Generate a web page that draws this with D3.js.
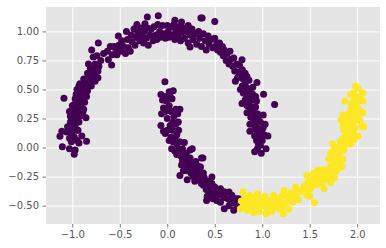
<!DOCTYPE html>
<html>
<head>
<meta charset="utf-8">
<script src="https://cdn.jsdelivr.net/npm/d3@7"></script>
<style>
  html, body { margin: 0; padding: 0; background: #fff; }
  svg { display: block; }
  text { font-family: "DejaVu Sans", sans-serif; }
</style>
</head>
<body>
<div id="chart"></div>
<script>
// values, [x, y]
const outerLeg = [
  [-1.105,0.006],[-0.98,-0.058],[-0.85,0.055],[-1.13,0.098],[-1.11,0.14],[-1.03,-0.01],[-0.97,-0.02],[-0.93,0.04],[-0.9,0.1],[-0.955,0.15],
  [-1.03,0.08],[-1.05,0.18],[-0.99,0.21],[-0.95,0.06],[-0.94,0.15],[-1.007,0.12],[-1.06,0.135],[-1.0,0.17],[-1.02,0.22],[-0.97,0.18],
  [-1.02,0.27],[-0.98,0.26],[-0.95,0.25],[-0.92,0.27],[-1.0,0.3],[-0.96,0.32],[-0.93,0.3],[-0.89,0.3],[-1.0,0.36],[-0.98,0.37],
  [-0.94,0.36],[-0.91,0.35],[-0.88,0.33],[-0.97,0.42],[-0.94,0.42],[-0.9,0.41],[-0.87,0.39],[-0.96,0.46],[-0.92,0.47],[-0.88,0.46],
  [-0.85,0.44],[-0.95,0.5],[-0.91,0.51],[-0.87,0.5],[-0.84,0.49],[-0.92,0.55],[-0.88,0.55],[-0.84,0.54],[-0.8,0.53],[-0.88,0.59],
  [-0.84,0.59],[-0.8,0.58],[-0.76,0.57],[-0.84,0.64],[-0.8,0.63],[-0.76,0.62],[-0.73,0.6],[-0.81,0.68],[-0.77,0.67],[-0.73,0.66],
  [-0.83,0.72],[-0.76,0.72],[-0.72,0.7],[-1.088,0.424],[-0.856,0.256],[-0.726,0.9],[-0.796,0.84],[-0.78,0.78],[-0.74,0.79],[-0.7,0.75],
  [-1.0,0.24],[-0.96,0.22],[-0.93,0.22],[-1.03,0.31],[-0.97,0.29],[-0.94,0.33],[-0.95,0.39],[-0.92,0.39],[-0.89,0.44],[-0.93,0.53],
  [-0.9,0.53],[-0.86,0.57],[-0.82,0.56],[-0.82,0.61],[-0.78,0.6],[-0.78,0.65],[-0.75,0.69],[-1.01,0.05],[-0.98,0.09],[-1.04,0.14]
];
const outerTop = [
  [-0.67,0.81],[-0.62,0.755],[-0.586,0.71],[-0.6,0.87],[-0.63,0.83],[-0.58,0.8],[-0.56,0.87],[-0.54,0.84],[-0.53,0.8],[-0.515,0.96],
  [-0.51,0.88],[-0.49,0.83],[-0.48,0.92],[-0.46,0.87],[-0.44,0.81],[-0.43,1.0],[-0.42,0.93],[-0.41,0.86],[-0.39,0.83],[-0.38,0.97],
  [-0.37,0.91],[-0.35,1.02],[-0.34,0.88],[-0.33,0.95],[-0.32,1.06],[-0.31,0.99],[-0.29,0.92],[-0.28,1.03],[-0.27,0.96],[-0.25,0.9],
  [-0.235,1.066],[-0.24,1.0],[-0.22,0.94],[-0.21,1.03],[-0.2,0.88],[-0.18,0.97],[-0.17,1.02],[-0.15,0.92],[-0.14,1.04],[-0.12,0.97],
  [-0.11,0.93],[-0.1,1.06],[-0.08,1.0],[-0.07,0.95],[-0.05,1.05],[-0.03,0.98],[-0.02,0.94],[0.0,1.05],[0.01,1.0],[0.02,0.95],
  [0.04,1.04],[0.05,0.97],[0.07,1.06],[0.08,1.095],[0.08,0.93],[0.09,1.01],[0.11,0.96],[0.12,1.04],[0.14,0.92],[0.15,1.08],
  [0.15,0.99],[0.17,1.03],[0.18,0.94],[0.2,1.0],[0.22,1.05],[0.22,0.9],[0.24,0.97],[0.24,0.865],[0.26,1.02],[0.27,0.93],
  [0.29,0.98],[0.31,0.89],[0.33,1.0],[0.34,0.94],[0.36,0.87],[0.38,0.98],[0.4,0.92],[0.41,0.84],[0.43,0.96],[0.44,0.89],
  [-0.21,1.124],[-0.095,1.135],[0.354,1.115],[0.367,1.115],[0.5,1.086],[0.46,0.93],[0.48,0.86],[0.5,0.94],[0.52,0.89]
];
const outerRight = [
  [0.53,0.84],[0.55,0.9],[0.56,0.82],[0.58,0.87],[0.59,0.79],[0.6,0.84],[0.62,0.75],[0.63,0.81],[0.65,0.72],[0.66,0.83],
  [0.67,0.76],[0.69,0.7],[0.7,0.77],[0.71,0.66],[0.73,0.72],[0.75,0.65],[0.76,0.71],[0.787,0.755],[0.77,0.62],[0.79,0.67],
  [0.74,0.6],[0.717,0.57],[0.8,0.59],[0.82,0.64],[0.84,0.61],[0.86,0.58],[0.79,0.53],[0.82,0.55],[0.84,0.51],[0.77,0.5],
  [0.8,0.47],[0.87,0.49],[0.9,0.52],[0.944,0.56],[0.83,0.46],[0.86,0.44],[0.9,0.46],[0.93,0.44],[1.014,0.46],[1.13,0.37],
  [0.787,0.38],[0.82,0.41],[0.86,0.39],[0.9,0.41],[0.94,0.4],[0.84,0.36],[0.89,0.35],[0.93,0.35],[0.84,0.3],[0.87,0.31],
  [0.91,0.3],[0.95,0.29],[1.01,0.28],[0.88,0.26],[0.92,0.25],[0.96,0.26],[0.87,0.2],[0.9,0.21],[0.94,0.2],[0.98,0.22],
  [1.03,0.2],[0.87,0.14],[0.92,0.16],[0.96,0.16],[0.99,0.135],[1.01,0.17],[1.06,0.1],[0.92,0.1],[0.95,0.12],[0.97,0.08],
  [1.02,0.11],[0.94,0.06],[1.0,0.06],[0.96,0.03],[0.98,0.02],[0.92,-0.037],[0.99,-0.05],[1.04,-0.01],[0.95,-0.01]
];
const innerArc = [
  [-0.025,0.567],[-0.067,0.457],[0.063,0.49],[0.02,0.48],[-0.03,0.44],[0.03,0.44],[-0.05,0.41],[-0.01,0.4],[0.05,0.42],[0.02,0.36],
  [-0.06,0.29],[0.133,0.33],[-0.04,0.34],[-0.02,0.31],[0.04,0.31],[0.09,0.33],[0.11,0.29],[0.07,0.27],[0.0,0.25],[0.116,0.22],
  [0.06,0.22],[-0.067,0.19],[0.03,0.19],[0.09,0.2],[-0.04,0.14],[0.0,0.15],[0.06,0.15],[0.12,0.15],[-0.02,0.12],[0.04,0.09],
  [0.1,0.11],[0.06,0.05],[0.1,0.03],[0.18,0.043],[0.12,-0.01],[0.046,-0.01],[0.16,-0.03],[0.08,-0.03],[0.263,-0.01],[0.2,-0.05],
  [0.14,-0.07],[0.24,-0.02],[0.16,-0.11],[0.2,-0.1],[0.133,-0.24],[0.15,-0.15],[0.18,-0.17],[0.22,-0.14],[0.26,-0.13],[0.3,-0.12],
  [0.36,-0.09],[0.17,-0.2],[0.21,-0.2],[0.25,-0.17],[0.29,-0.15],[0.33,-0.16],[0.21,-0.277],[0.25,-0.22],[0.29,-0.2],[0.33,-0.2],
  [0.35,-0.167],[0.29,-0.29],[0.27,-0.25],[0.31,-0.25],[0.35,-0.23],[0.38,-0.325],[0.34,-0.28],[0.375,-0.09],[0.39,-0.26],[0.36,-0.31],
  [0.43,-0.29],[0.47,-0.254],[0.41,-0.36],[0.44,-0.33],[0.47,-0.31],[0.5,-0.34],[0.414,-0.455],[0.42,-0.42],[0.46,-0.39],[0.5,-0.4],
  [0.52,-0.455],[0.56,-0.354],[0.55,-0.41],[0.6,-0.38],[0.65,-0.383],[0.6,-0.43],[0.64,-0.44],[0.68,-0.41],[0.72,-0.44],[0.6,-0.527],
  [0.65,-0.5],[0.7,-0.54],[0.7,-0.48],[0.74,-0.5],[0.67,-0.47],[0.56,-0.47],[0.48,-0.44],[0.75,-0.44],[0.38,-0.22],[0.4,-0.31],
  [0.44,-0.38],[0.53,-0.37],[0.02,0.06],[0.08,0.08],[0.13,0.05],[0.1,-0.06],[0.16,-0.01],[0.19,-0.08],[0.24,-0.09],[0.23,-0.19]
];
const yellowLow = [
  [0.797,-0.383],[0.77,-0.527],[0.78,-0.46],[0.8,-0.5],[0.82,-0.43],[0.84,-0.54],[0.85,-0.47],[0.87,-0.41],[0.89,-0.51],[0.91,-0.56],
  [0.92,-0.46],[0.95,-0.4],[0.95,-0.5],[0.97,-0.55],[1.0,-0.47],[1.04,-0.57],[1.03,-0.42],[1.05,-0.52],[1.08,-0.46],[1.1,-0.55],
  [1.12,-0.41],[1.13,-0.5],[1.16,-0.45],[1.18,-0.53],[1.2,-0.42],[1.22,-0.57],[1.23,-0.37],[1.24,-0.48],[1.27,-0.44],[1.28,-0.53],
  [1.3,-0.39],[1.32,-0.47],[1.35,-0.34],[1.35,-0.42],[1.38,-0.45],[1.4,-0.38],[1.44,-0.33],[1.47,-0.41],[1.5,-0.42],[1.55,-0.475],
  [1.47,-0.24],[1.48,-0.3],[1.51,-0.34],[1.53,-0.28],[1.54,-0.22],[1.57,-0.32],[1.58,-0.2],[1.59,-0.27],[1.62,-0.23],[1.65,-0.355],
  [1.63,-0.3],[1.67,-0.27],[1.66,-0.19],[1.7,-0.22],[1.72,-0.3],[1.72,-0.16],[1.75,-0.23],[1.77,-0.13],[1.8,-0.18],[1.84,-0.16],
  [0.83,-0.49],[0.87,-0.47],[0.9,-0.43],[0.98,-0.44],[1.02,-0.5],[1.06,-0.47],[1.09,-0.5],[1.11,-0.45],[1.15,-0.5],[1.19,-0.47],
  [1.21,-0.51],[1.25,-0.42],[1.3,-0.44],[1.33,-0.4],[1.37,-0.38],[1.42,-0.37],[1.45,-0.36],[1.5,-0.3],[1.5,-0.36],[1.55,-0.3],
  [1.55,-0.25],[1.6,-0.31],[1.61,-0.19],[1.64,-0.25],[1.68,-0.22],[1.7,-0.27],[1.74,-0.19],[1.76,-0.26],[1.78,-0.2],[1.8,-0.12]
];
const yellowHigh = [
  [1.7,-0.1],[1.72,-0.05],[1.74,0.03],[1.75,-0.03],[1.78,-0.08],[1.8,0.0],[1.82,-0.05],[1.85,-0.1],[1.86,-0.02],[1.82,0.05],
  [1.89,0.03],[1.93,0.03],[1.85,0.08],[1.88,0.1],[1.92,0.09],[2.01,0.1],[1.86,0.15],[1.9,0.15],[1.95,0.16],[1.85,0.18],
  [2.05,0.18],[1.85,0.22],[1.9,0.2],[1.95,0.21],[1.98,0.17],[2.07,0.18],[1.83,0.24],[1.88,0.25],[1.93,0.26],[1.97,0.24],
  [1.85,0.28],[1.91,0.29],[1.96,0.3],[2.06,0.3],[2.01,0.29],[1.93,0.33],[1.98,0.34],[2.02,0.33],[1.975,0.37],[1.94,0.38],
  [1.87,0.4],[2.06,0.4],[1.97,0.41],[1.99,0.44],[1.93,0.46],[2.06,0.47],[1.96,0.47],[2.01,0.51],[1.98,0.53],[2.0,0.24],
  [2.03,0.23],[2.0,0.39],[2.02,0.43],[1.97,0.07],[1.96,0.12],[1.9,0.06],[1.83,-0.02],[1.77,-0.01],[1.75,-0.1],[1.84,0.02]
];

const xTicks = [-1.0, -0.5, 0.0, 0.5, 1.0, 1.5, 2.0];
const yTicks = [-0.50, -0.25, 0.00, 0.25, 0.50, 0.75, 1.00];

const width = 386, height = 248;
const margin = { top: 7, right: 6, bottom: 24, left: 46 };
const innerW = width - margin.left - margin.right;
const innerH = height - margin.top - margin.bottom;

const xScale = d3.scaleLinear().domain([-1.277, 2.24]).range([0, innerW]);
const yScale = d3.scaleLinear().domain([-0.658, 1.21]).range([innerH, 0]);

const svg = d3.select("#chart").append("svg")
  .attr("width", width)
  .attr("height", height);

const g = svg.append("g")
  .attr("transform", `translate(${margin.left},${margin.top})`);

g.append("rect")
  .attr("width", innerW)
  .attr("height", innerH)
  .attr("fill", "#e5e5e5");

// grid lines
g.append("g")
  .attr("transform", `translate(0,${innerH})`)
  .call(d3.axisBottom(xScale).tickValues(xTicks).tickSize(-innerH).tickFormat(""))
  .call(a => a.select(".domain").remove())
  .selectAll("line").attr("stroke", "#fff").attr("stroke-width", 1);

g.append("g")
  .call(d3.axisLeft(yScale).tickValues(yTicks).tickSize(-innerW).tickFormat(""))
  .call(a => a.select(".domain").remove())
  .selectAll("line").attr("stroke", "#fff").attr("stroke-width", 1);

// tick labels
const xAxisG = g.append("g")
  .attr("transform", `translate(0,${innerH})`)
  .call(d3.axisBottom(xScale).tickValues(xTicks).tickSize(3.5).tickPadding(3.5).tickFormat(d3.format(".1f")));

const yAxisG = g.append("g")
  .call(d3.axisLeft(yScale).tickValues(yTicks).tickSize(3.5).tickPadding(3.5).tickFormat(d3.format(".2f")));

[xAxisG, yAxisG].forEach(a => {
  a.select(".domain").remove();
  a.selectAll("line").attr("stroke", "#555555").attr("stroke-width", 0.8);
  a.selectAll("text")
    .attr("fill", "#555555")
    .style("font-size", "10px")
    .style("font-family", '"DejaVu Sans", sans-serif');
});

function drawPoints(data, color) {
  g.append("g").selectAll("circle")
    .data(data)
    .enter()
    .append("circle")
    .attr("cx", d => xScale(d[0]))
    .attr("cy", d => yScale(d[1]))
    .attr("r", 3.5)
    .attr("fill", color);
}

drawPoints(outerLeg.concat(outerTop, outerRight, innerArc), "#440154");
drawPoints(yellowLow.concat(yellowHigh), "#fde725");
</script>
</body>
</html>
